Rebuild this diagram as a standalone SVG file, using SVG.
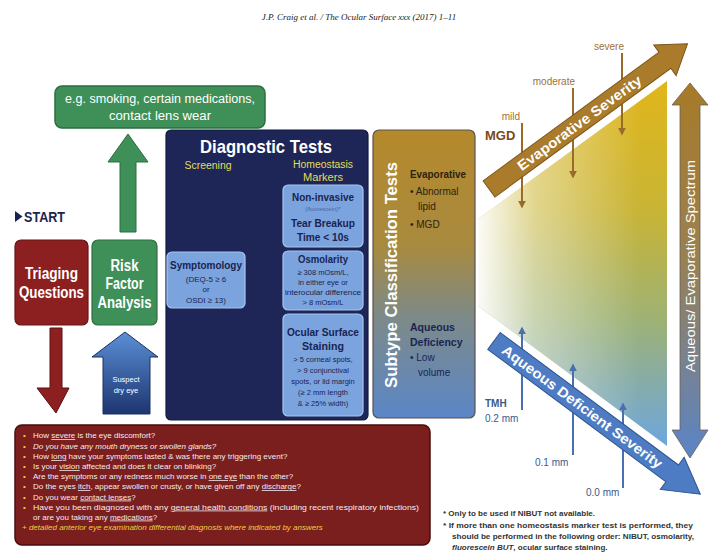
<svg xmlns="http://www.w3.org/2000/svg" width="716" height="558" viewBox="0 0 716 558">
<style>
  text { font-family: "Liberation Sans", Arial, sans-serif; }
  .hdr { font-family: "Liberation Serif", serif; font-style: italic; font-size: 9px; fill: #222; }
  .wb { fill: #fff; font-weight: bold; }
  .wn { fill: #fff; }
  .nv { fill: #1a2450; }
  .nvb { fill: #1a2450; font-weight: bold; }
  .yl { fill: #e6dc5a; }
  .q { fill: #f3ecec; font-size: 8px; }
  .bul { fill: #f0d040; font-size: 8px; }
  .fn { fill: #333; font-size: 8px; font-weight: bold; }
  .brn { fill: #a0703a; font-size: 10px; }
  .blu { fill: #3b5a8c; font-size: 10px; }
  .lb { fill: #7ba3de; stroke: #a9c5ef; stroke-width: 1.2; }
</style>
<defs>
  <linearGradient id="gSub" x1="0" y1="0" x2="0" y2="1">
    <stop offset="0" stop-color="#b5892c"/>
    <stop offset="0.4" stop-color="#a88a3e"/>
    <stop offset="0.65" stop-color="#7d8a88"/>
    <stop offset="1" stop-color="#5a86c8"/>
  </linearGradient>
  <linearGradient id="gSpec" gradientUnits="userSpaceOnUse" x1="0" y1="83" x2="0" y2="458">
    <stop offset="0" stop-color="#a87a28"/>
    <stop offset="0.45" stop-color="#9a8050"/>
    <stop offset="1" stop-color="#5a84c8"/>
  </linearGradient>
  <linearGradient id="gField" gradientUnits="userSpaceOnUse" x1="0" y1="85" x2="0" y2="445">
    <stop offset="0" stop-color="#e0b61c"/>
    <stop offset="0.35" stop-color="#c8b435"/>
    <stop offset="0.65" stop-color="#9eb274"/>
    <stop offset="1" stop-color="#6ea6dc"/>
  </linearGradient>
  <linearGradient id="gFade" gradientUnits="userSpaceOnUse" x1="478" y1="0" x2="640" y2="0">
    <stop offset="0" stop-color="#fff" stop-opacity="0.95"/>
    <stop offset="0.35" stop-color="#fff" stop-opacity="0.45"/>
    <stop offset="1" stop-color="#fff" stop-opacity="0"/>
  </linearGradient>
  <linearGradient id="gSus" x1="0" y1="0" x2="0" y2="1">
    <stop offset="0" stop-color="#5b8fd6"/>
    <stop offset="1" stop-color="#1d3570"/>
  </linearGradient>
  <marker id="mBrown" viewBox="0 0 10 10" refX="8" refY="5" markerWidth="4" markerHeight="4" orient="auto">
    <path d="M0,0 L10,5 L0,10 Z" fill="#9a6a2a"/>
  </marker>
  <marker id="mBlue" viewBox="0 0 10 10" refX="8" refY="5" markerWidth="4" markerHeight="4" orient="auto">
    <path d="M0,0 L10,5 L0,10 Z" fill="#4a70b0"/>
  </marker>
</defs>

<rect x="0" y="0" width="716" height="558" fill="#fff"/>
<text class="hdr" x="359" y="20" text-anchor="middle">J.P. Craig et al. / The Ocular Surface xxx (2017) 1–11</text>

<g id="connectors">
  <path d="M128,134 L148,162 L136,162 L136,232 L120,232 L120,162 L108,162 Z" fill="#3f8f58" stroke="#2d6e40" stroke-width="1"/>
  <path d="M50,328 L62,328 L62,388 L69,388 L56,413 L37,388 L50,388 Z" fill="#8c1f1f" stroke="#5a1010" stroke-width="1"/>
  <path d="M125,332 L158,357 L150,357 L150,414 L103,414 L103,357 L92,357 Z" fill="url(#gSus)" stroke="#1d3060" stroke-width="1"/>
  <text class="wn" x="126" y="382" font-size="7.5" text-anchor="middle">Suspect</text>
  <text class="wn" x="126" y="393" font-size="7.5" text-anchor="middle">dry eye</text>
  <path d="M248,268 L272,268 L272,262 L284,278 L272,294 L272,289 L248,289 Z" fill="#b02a22" stroke="#7a1510" stroke-width="1"/>
  <text class="wb" x="263" y="282" font-size="10.5" text-anchor="middle">+1 of</text>
</g>

<g id="risk-examples">
  <rect x="55" y="86" width="210" height="42" rx="7" fill="#3f8f58" stroke="#2d6e40" stroke-width="1.5"/>
  <text x="160" y="103" fill="#fff" font-size="12.5" text-anchor="middle" textLength="190" lengthAdjust="spacingAndGlyphs">e.g. smoking, certain medications,</text>
  <text x="160" y="120" fill="#fff" font-size="12.5" text-anchor="middle" textLength="102" lengthAdjust="spacingAndGlyphs">contact lens wear</text>
</g>

<g id="start">
  <path d="M15,211 L22.5,216.5 L15,222 Z" fill="#1a2450"/>
  <text class="nvb" x="24" y="222" font-size="14" textLength="41" lengthAdjust="spacingAndGlyphs">START</text>
</g>

<g id="triaging">
  <rect x="15" y="240" width="73" height="85" rx="6" fill="#8c1f1f" stroke="#6a1414" stroke-width="1.2"/>
  <text class="wb" x="51.5" y="279" font-size="16" text-anchor="middle" textLength="53" lengthAdjust="spacingAndGlyphs">Triaging</text>
  <text class="wb" x="51.5" y="298" font-size="16" text-anchor="middle" textLength="65" lengthAdjust="spacingAndGlyphs">Questions</text>
</g>

<g id="risk-factor">
  <rect x="92" y="240" width="65" height="85" rx="6" fill="#3f8f58" stroke="#2d6e40" stroke-width="1.2"/>
  <text class="wb" x="124.5" y="271" font-size="16" text-anchor="middle" textLength="28" lengthAdjust="spacingAndGlyphs">Risk</text>
  <text class="wb" x="124.5" y="289" font-size="16" text-anchor="middle" textLength="38" lengthAdjust="spacingAndGlyphs">Factor</text>
  <text class="wb" x="124.5" y="308" font-size="16" text-anchor="middle" textLength="54" lengthAdjust="spacingAndGlyphs">Analysis</text>
</g>

<g id="diagnostic-tests">
  <rect x="166" y="130" width="202" height="290" rx="5" fill="#1d2657" stroke="#111a40" stroke-width="1.2"/>
  <text class="wb" x="266" y="153" font-size="19" text-anchor="middle" textLength="132" lengthAdjust="spacingAndGlyphs">Diagnostic Tests</text>
  <text class="yl" x="208" y="169" font-size="10" text-anchor="middle" textLength="47" lengthAdjust="spacingAndGlyphs">Screening</text>
  <text class="yl" x="323" y="168" font-size="10" text-anchor="middle" textLength="60" lengthAdjust="spacingAndGlyphs">Homeostasis</text>
  <text class="yl" x="323" y="181" font-size="10" text-anchor="middle" textLength="40" lengthAdjust="spacingAndGlyphs">Markers</text>

  <g id="symptomology">
    <rect class="lb" x="167" y="252" width="78" height="56" rx="5"/>
    <text class="nvb" x="206" y="269" font-size="10.5" text-anchor="middle" textLength="72" lengthAdjust="spacingAndGlyphs">Symptomology</text>
    <text class="nv" x="206" y="282" font-size="8" text-anchor="middle">(DEQ-5 ≥ 6</text>
    <text class="nv" x="206" y="292" font-size="8" text-anchor="middle">or</text>
    <text class="nv" x="206" y="303" font-size="8" text-anchor="middle">OSDI ≥ 13)</text>
  </g>

  <g id="nibut">
    <rect class="lb" x="283" y="185" width="80" height="62" rx="5"/>
    <text class="nvb" x="323" y="201" font-size="10.5" text-anchor="middle" textLength="62" lengthAdjust="spacingAndGlyphs">Non-invasive</text>
    <text x="323" y="211" font-size="6" fill="#4a68a8" text-anchor="middle">(fluorescein)*</text>
    <text class="nvb" x="323" y="227" font-size="11" text-anchor="middle" textLength="64" lengthAdjust="spacingAndGlyphs">Tear Breakup</text>
    <text class="nvb" x="323" y="241" font-size="11" text-anchor="middle" textLength="52" lengthAdjust="spacingAndGlyphs">Time &lt; 10s</text>
  </g>

  <g id="osmolarity">
    <rect class="lb" x="283" y="251" width="80" height="59" rx="5"/>
    <text class="nvb" x="323" y="263" font-size="10.5" text-anchor="middle" textLength="50" lengthAdjust="spacingAndGlyphs">Osmolarity</text>
    <text class="nv" x="323" y="275" font-size="7.5" text-anchor="middle">≥ 308 mOsm/L,</text>
    <text class="nv" x="323" y="285" font-size="7.5" text-anchor="middle">in either eye or</text>
    <text class="nv" x="323" y="295" font-size="7.5" text-anchor="middle" textLength="76" lengthAdjust="spacingAndGlyphs">interocular difference</text>
    <text class="nv" x="323" y="305" font-size="7.5" text-anchor="middle">&gt; 8 mOsm/L</text>
  </g>

  <g id="staining">
    <rect class="lb" x="283" y="314" width="80" height="102" rx="5"/>
    <text class="nvb" x="323" y="336" font-size="10.5" text-anchor="middle" textLength="72" lengthAdjust="spacingAndGlyphs">Ocular Surface</text>
    <text class="nvb" x="323" y="350" font-size="10.5" text-anchor="middle" textLength="42" lengthAdjust="spacingAndGlyphs">Staining</text>
    <text class="nv" x="323" y="362" font-size="7.5" text-anchor="middle">&gt; 5 corneal spots,</text>
    <text class="nv" x="323" y="373" font-size="7.5" text-anchor="middle">&gt; 9 conjunctival</text>
    <text class="nv" x="323" y="384" font-size="7.5" text-anchor="middle">spots, or lid margin</text>
    <text class="nv" x="323" y="395" font-size="7.5" text-anchor="middle">(≥ 2 mm length</text>
    <text class="nv" x="323" y="406" font-size="7.5" text-anchor="middle">&amp; ≥ 25% width)</text>
  </g>
</g>

<g id="subtype">
  <rect x="373" y="130" width="102" height="288" rx="6" fill="url(#gSub)" stroke="#5a5050" stroke-width="1.2"/>
  <text class="wb" transform="translate(397,275) rotate(-90)" x="0" y="0" font-size="17" text-anchor="middle" textLength="226" lengthAdjust="spacingAndGlyphs">Subtype Classification Tests</text>
  <text x="410" y="178" font-size="10" font-weight="bold" textLength="56" lengthAdjust="spacingAndGlyphs" fill="#2a2410">Evaporative</text>
  <text x="410" y="195" font-size="10" fill="#2a2410">• Abnormal</text>
  <text x="418" y="210" font-size="10" fill="#2a2410">lipid</text>
  <text x="410" y="228" font-size="10" fill="#2a2410">• MGD</text>
  <text class="nvb" x="410" y="331" font-size="10.5">Aqueous</text>
  <text class="nvb" x="410" y="346" font-size="10.5">Deficiency</text>
  <text class="nv" x="410" y="361" font-size="10">• Low</text>
  <text class="nv" x="418" y="376" font-size="10">volume</text>
</g>

<g id="severity-chart">
  <polygon points="478,219 667,81 667,446 478,306" fill="url(#gField)"/>
  <polygon points="478,219 667,81 667,446 478,306" fill="url(#gFade)"/>

  <g id="mgd-levels">
    <text x="485" y="140" font-size="13" font-weight="bold" fill="#7a4a1a">MGD</text>
    <text class="brn" x="520" y="120" text-anchor="end">mild</text>
    <path d="M522,123 L522,207" stroke="#9a6a2a" stroke-width="2" fill="none" marker-end="url(#mBrown)"/>
    <text class="brn" x="575" y="85" text-anchor="end">moderate</text>
    <path d="M573,88 L573,177" stroke="#9a6a2a" stroke-width="2" fill="none" marker-end="url(#mBrown)"/>
    <text class="brn" x="624" y="50" text-anchor="end">severe</text>
    <path d="M622,53 L622,134" stroke="#9a6a2a" stroke-width="2" fill="none" marker-end="url(#mBrown)"/>
  </g>

  <g id="tmh-levels">
    <text x="485" y="407" font-size="10" font-weight="bold" fill="#3b5a8c">TMH</text>
    <text class="blu" x="485" y="422">0.2 mm</text>
    <path d="M522,410 L522,328" stroke="#4a70b0" stroke-width="2" fill="none" marker-end="url(#mBlue)"/>
    <text class="blu" x="535" y="466">0.1 mm</text>
    <path d="M573,455 L573,365" stroke="#4a70b0" stroke-width="2" fill="none" marker-end="url(#mBlue)"/>
    <text class="blu" x="586" y="496">0.0 mm</text>
    <path d="M623,488 L623,404" stroke="#4a70b0" stroke-width="2" fill="none" marker-end="url(#mBlue)"/>
  </g>

  <g id="evaporative-severity" transform="translate(489,189) rotate(-36.2)">
    <path d="M0,-10 L218,-10 L218,-19 L246,0 L218,19 L218,10 L0,10 Z" fill="#aa7b2a" stroke="#7d5718" stroke-width="1"/>
    <text class="wb" x="112" y="5" font-size="14" text-anchor="middle" textLength="150" lengthAdjust="spacingAndGlyphs">Evaporative Severity</text>
  </g>

  <g id="aqueous-severity" transform="translate(494,341) rotate(36.6)">
    <path d="M0,-10.5 L222,-10.5 L222,-20 L257,0 L222,20 L222,10.5 L0,10.5 Z" fill="#4d7cc4" stroke="#2f5590" stroke-width="1"/>
    <text class="wb" x="110" y="5" font-size="14" text-anchor="middle" textLength="196" lengthAdjust="spacingAndGlyphs">Aqueous Deficient Severity</text>
  </g>

  <g id="spectrum">
    <path d="M690,83 L708,105 L700,105 L700,430 L708,430 L690,458 L672,430 L680,430 L680,105 L672,105 Z" fill="url(#gSpec)" stroke="#6a6050" stroke-width="0.8"/>
    <text class="wn" transform="translate(695,266) rotate(-90)" x="0" y="0" font-size="12.5" text-anchor="middle" textLength="212" lengthAdjust="spacingAndGlyphs">Aqueous/ Evaporative Spectrum</text>
  </g>
</g>

<g id="questions">
  <rect x="15" y="425" width="415" height="120" rx="7" fill="#7b1e1e" stroke="#4a0e0e" stroke-width="1.5"/>
  <g class="bul">
    <text x="23" y="438">•</text>
    <text x="23" y="448.5">•</text>
    <text x="23" y="459">•</text>
    <text x="23" y="469">•</text>
    <text x="23" y="479">•</text>
    <text x="23" y="489">•</text>
    <text x="23" y="499.5">•</text>
    <text x="23" y="509.5">•</text>
  </g>
  <text class="q" x="33" y="438">How <tspan text-decoration="underline">severe</tspan> is the eye discomfort?</text>
  <text class="q" x="33" y="448.5" font-style="italic">Do you have any mouth dryness or swollen glands?</text>
  <text class="q" x="33" y="459">How <tspan text-decoration="underline">long</tspan> have your symptoms lasted &amp; was there any triggering event?</text>
  <text class="q" x="33" y="469">Is your <tspan text-decoration="underline">vision</tspan> affected and does it clear on blinking?</text>
  <text class="q" x="33" y="479">Are the symptoms or any redness much worse in <tspan text-decoration="underline">one eye</tspan> than the other?</text>
  <text class="q" x="33" y="489">Do the eyes <tspan text-decoration="underline">itch</tspan>, appear swollen or crusty, or have given off any <tspan text-decoration="underline">discharge</tspan>?</text>
  <text class="q" x="33" y="499.5">Do you wear <tspan text-decoration="underline">contact lenses</tspan>?</text>
  <text class="q" x="33" y="509.5" textLength="386" lengthAdjust="spacingAndGlyphs">Have you been diagnosed with any <tspan text-decoration="underline">general health conditions</tspan> (including recent respiratory infections)</text>
  <text class="q" x="33" y="519.5">or are you taking any <tspan text-decoration="underline">medications</tspan>?</text>
  <text x="22" y="530" font-size="8" font-style="italic" fill="#f0d040">+ detailed anterior eye examination differential diagnosis where indicated by answers</text>
</g>

<g id="footnotes">
  <text class="fn" x="443" y="516">* Only to be used if NIBUT not available.</text>
  <text class="fn" x="443" y="528" textLength="250" lengthAdjust="spacingAndGlyphs">* If more than one homeostasis marker test is performed, they</text>
  <text class="fn" x="452" y="539" textLength="242" lengthAdjust="spacingAndGlyphs">should be performed in the following order: NIBUT, osmolarity,</text>
  <text class="fn" x="452" y="550"><tspan font-style="italic">fluorescein BUT</tspan>, ocular surface staining.</text>
</g>
</svg>
